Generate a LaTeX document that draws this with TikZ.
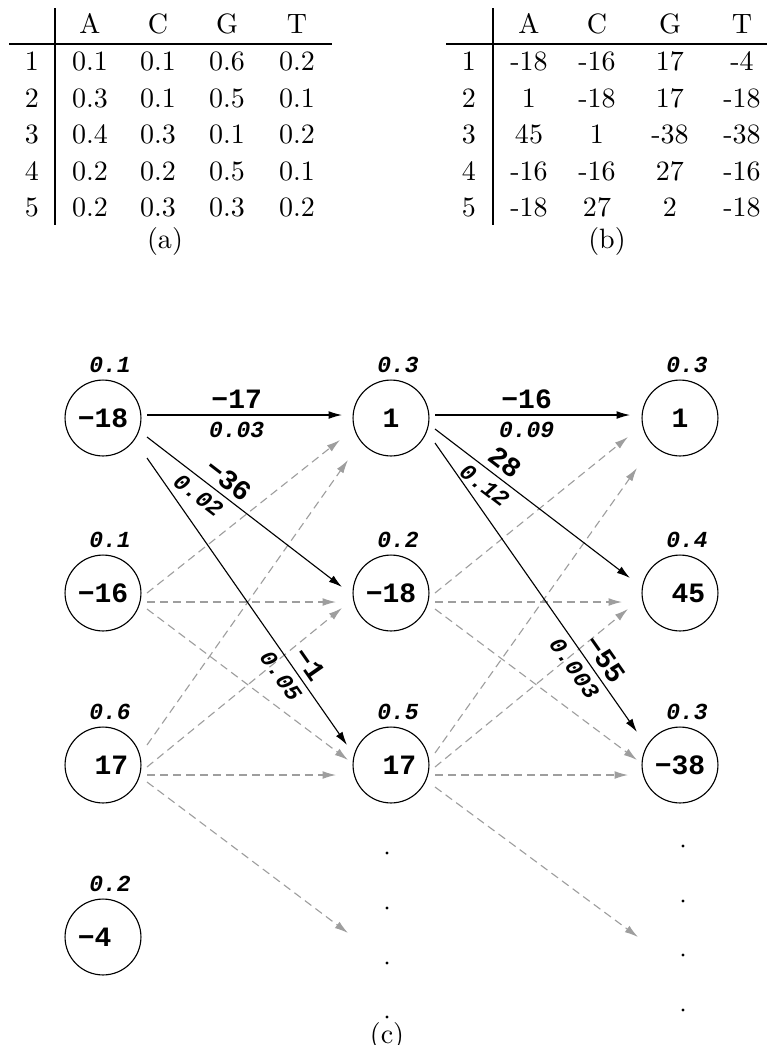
\documentclass[tikz,border=0pt]{standalone}
\usepackage{fontspec}
\newfontfamily\mono{Liberation Mono}
\usetikzlibrary{calc,arrows.meta}
\definecolor{missgray}{gray}{0.62}

\begin{document}
\begin{tikzpicture}[x=0.357pt,y=-0.357pt,
  rule/.style={line width=0.4pt},
  cell/.style={anchor=base,inner sep=0pt,font=\fontsize{10}{12}\selectfont},
  state/.style={circle,draw,line width=0.4pt,minimum size=27.1pt,inner sep=0pt,
                font=\mono\bfseries\fontsize{10}{12}\selectfont},
  prob/.style={inner sep=0pt,font=\mono\bfseries\itshape\fontsize{8.2}{9}\selectfont},
  score/.style={inner sep=2.1pt,font=\mono\bfseries\fontsize{10}{12}\selectfont},
  eprob/.style={inner sep=2.3pt,font=\mono\bfseries\itshape\fontsize{8.2}{9}\selectfont},
  hit/.style={line width=0.4pt,-{Latex[length=4.8pt,width=2.8pt]}},
  miss/.style={line width=0.4pt,missgray,dash pattern=on 2.9pt off 1.8pt,
               -{Latex[length=4.8pt,width=2.8pt]}},
]
\useasboundingbox (0,0) rectangle (768,1045);

% ---------- (a) probability matrix ----------
\draw[rule] (55,8) -- (55,225);
\draw[rule] (9,44) -- (332,44);
\foreach \c/\x in {A/90,C/158,G/227,T/297}
  \node[cell] (pa-\c) at (\x,33) {\c};
\foreach \r/\y/\vA/\vC/\vG/\vT in {1/70/0.1/0.1/0.6/0.2,
                                   2/107/0.3/0.1/0.5/0.1,
                                   3/143/0.4/0.3/0.1/0.2,
                                   4/180/0.2/0.2/0.5/0.1,
                                   5/216/0.2/0.3/0.3/0.2}{
  \node[cell] (pa-r\r) at (32,\y) {\r};
  \node[cell] (pa-\r-A) at (90,\y) {\vA};
  \node[cell] (pa-\r-C) at (158,\y) {\vC};
  \node[cell] (pa-\r-G) at (227,\y) {\vG};
  \node[cell] (pa-\r-T) at (297,\y) {\vT};
}
\node[inner sep=0pt,font=\fontsize{10}{12}\selectfont] (capa) at (165,241) {(a)};

% ---------- (b) score matrix ----------
\draw[rule] (493,8) -- (493,225);
\draw[rule] (446,44) -- (767,44);
\foreach \c/\x in {A/529,C/597,G/670,T/742}
  \node[cell] (sb-\c) at (\x,33) {\c};
\foreach \r/\y/\vA/\vC/\vG/\vT in {1/70/-18/-16/17/-4,
                                   2/107/1/-18/17/-18,
                                   3/143/45/1/-38/-38,
                                   4/180/-16/-16/27/-16,
                                   5/216/-18/27/2/-18}{
  \node[cell] (sb-r\r) at (469,\y) {\r};
  \node[cell] (sb-\r-A) at (529,\y) {\vA};
  \node[cell] (sb-\r-C) at (597,\y) {\vC};
  \node[cell] (sb-\r-G) at (670,\y) {\vG};
  \node[cell] (sb-\r-T) at (742,\y) {\vT};
}
\node[inner sep=0pt,font=\fontsize{10}{12}\selectfont] (capb) at (607,241) {(b)};

% ---------- (c) scoring graph ----------
\node[state] (a1) at (103,418) {−18};
\node[state] (a2) at (103,593) {−16};
\node[state] (a3) at (103,765) {\hphantom{0}17};
\node[state] (a4) at (103,937) {−4\hphantom{0}};
\node[state] (b1) at (391,418) {1};
\node[state] (b2) at (391,593) {−18};
\node[state] (b3) at (391,765) {\hphantom{0}17};
\node[state] (c1) at (680,418) {1};
\node[state] (c2) at (680,593) {\hphantom{0}45};
\node[state] (c3) at (680,765) {−38};

% emission probabilities above the states
\foreach \n/\p in {a1/0.1,a2/0.1,a3/0.6,a4/0.2,b1/0.3,b2/0.2,b3/0.5,c1/0.3,c2/0.4,c3/0.3}
  \node[prob] (p-\n) at ($(\n)+(7,-53)$) {\p};

% continuation dots
\foreach \y in {853,908,963,1017} \fill (387,\y) circle[radius=0.55pt];
\foreach \y in {846,901,955,1010} \fill (683,\y) circle[radius=0.55pt];
\coordinate (bd) at (348,933);
\coordinate (cd) at (638,937);

% pruned transitions
\draw[miss] ($(a2)+(44,0)$)  -- ($(b1)+(-51,22)$);
\draw[miss] ($(a2)+(44,9)$)  -- ($(b2)+(-55,9)$);
\draw[miss] ($(a2)+(44,16)$) -- ($(b3)+(-43,-5)$);
\draw[miss] ($(a3)+(44,-20)$) -- ($(b1)+(-43,42)$);
\draw[miss] ($(a3)+(44,2)$)  -- ($(b2)+(-49,15)$);
\draw[miss] ($(a3)+(44,10)$) -- ($(b3)+(-55,10)$);
\draw[miss] ($(a3)+(44,17)$) -- (bd);
\draw[miss] ($(b2)+(44,0)$)  -- ($(c1)+(-52,19)$);
\draw[miss] ($(b2)+(44,9)$)  -- ($(c2)+(-58,9)$);
\draw[miss] ($(b2)+(44,16)$) -- ($(c3)+(-43,-5)$);
\draw[miss] ($(b3)+(44,-12)$) -- ($(c1)+(-43,50)$);
\draw[miss] ($(b3)+(44,2)$)  -- ($(c2)+(-52,16)$);
\draw[miss] ($(b3)+(44,10)$) -- ($(c3)+(-52,10)$);
\draw[miss] ($(b3)+(44,22)$) -- (cd);

% kept transitions with score and probability
\draw[hit] ($(a1)+(44,-3)$) -- ($(b1)+(-49,-3)$)
  node[pos=.46,above,score] (s-a1b1) {−17}
  node[pos=.46,below,eprob] (q-a1b1) {0.03};
\draw[hit] ($(a1)+(44,19)$) -- ($(b2)+(-49,-6)$)
  node[pos=.37,above,sloped,score] (s-a1b2) {−36}
  node[pos=.31,below,sloped,eprob] (q-a1b2) {0.02};
\draw[hit] ($(a1)+(44,40)$) -- ($(b3)+(-44,-20)$)
  node[pos=.75,above,sloped,score] (s-a1b3) {−1}
  node[pos=.73,below,sloped,eprob] (q-a1b3) {0.05};
\draw[hit] ($(b1)+(44,-3)$) -- ($(c1)+(-50,-3)$)
  node[pos=.47,above,score] (s-b1c1) {−16}
  node[pos=.47,below,eprob] (q-b1c1) {0.09};
\draw[hit] ($(b1)+(44,11)$) -- ($(c2)+(-50,-15)$)
  node[pos=.31,above,sloped,score] (s-b1c2) {28}
  node[pos=.30,below,sloped,eprob] (q-b1c2) {0.12};
\draw[hit] ($(b1)+(44,25)$) -- ($(c3)+(-43,-33)$)
  node[pos=.78,above,sloped,score] (s-b1c3) {−55}
  node[pos=.75,below,sloped,eprob] (q-b1c3) {0.003};

\node[inner sep=0pt,font=\fontsize{10}{12}\selectfont] (capc) at (387,1036) {(c)};
\end{tikzpicture}
\end{document}
